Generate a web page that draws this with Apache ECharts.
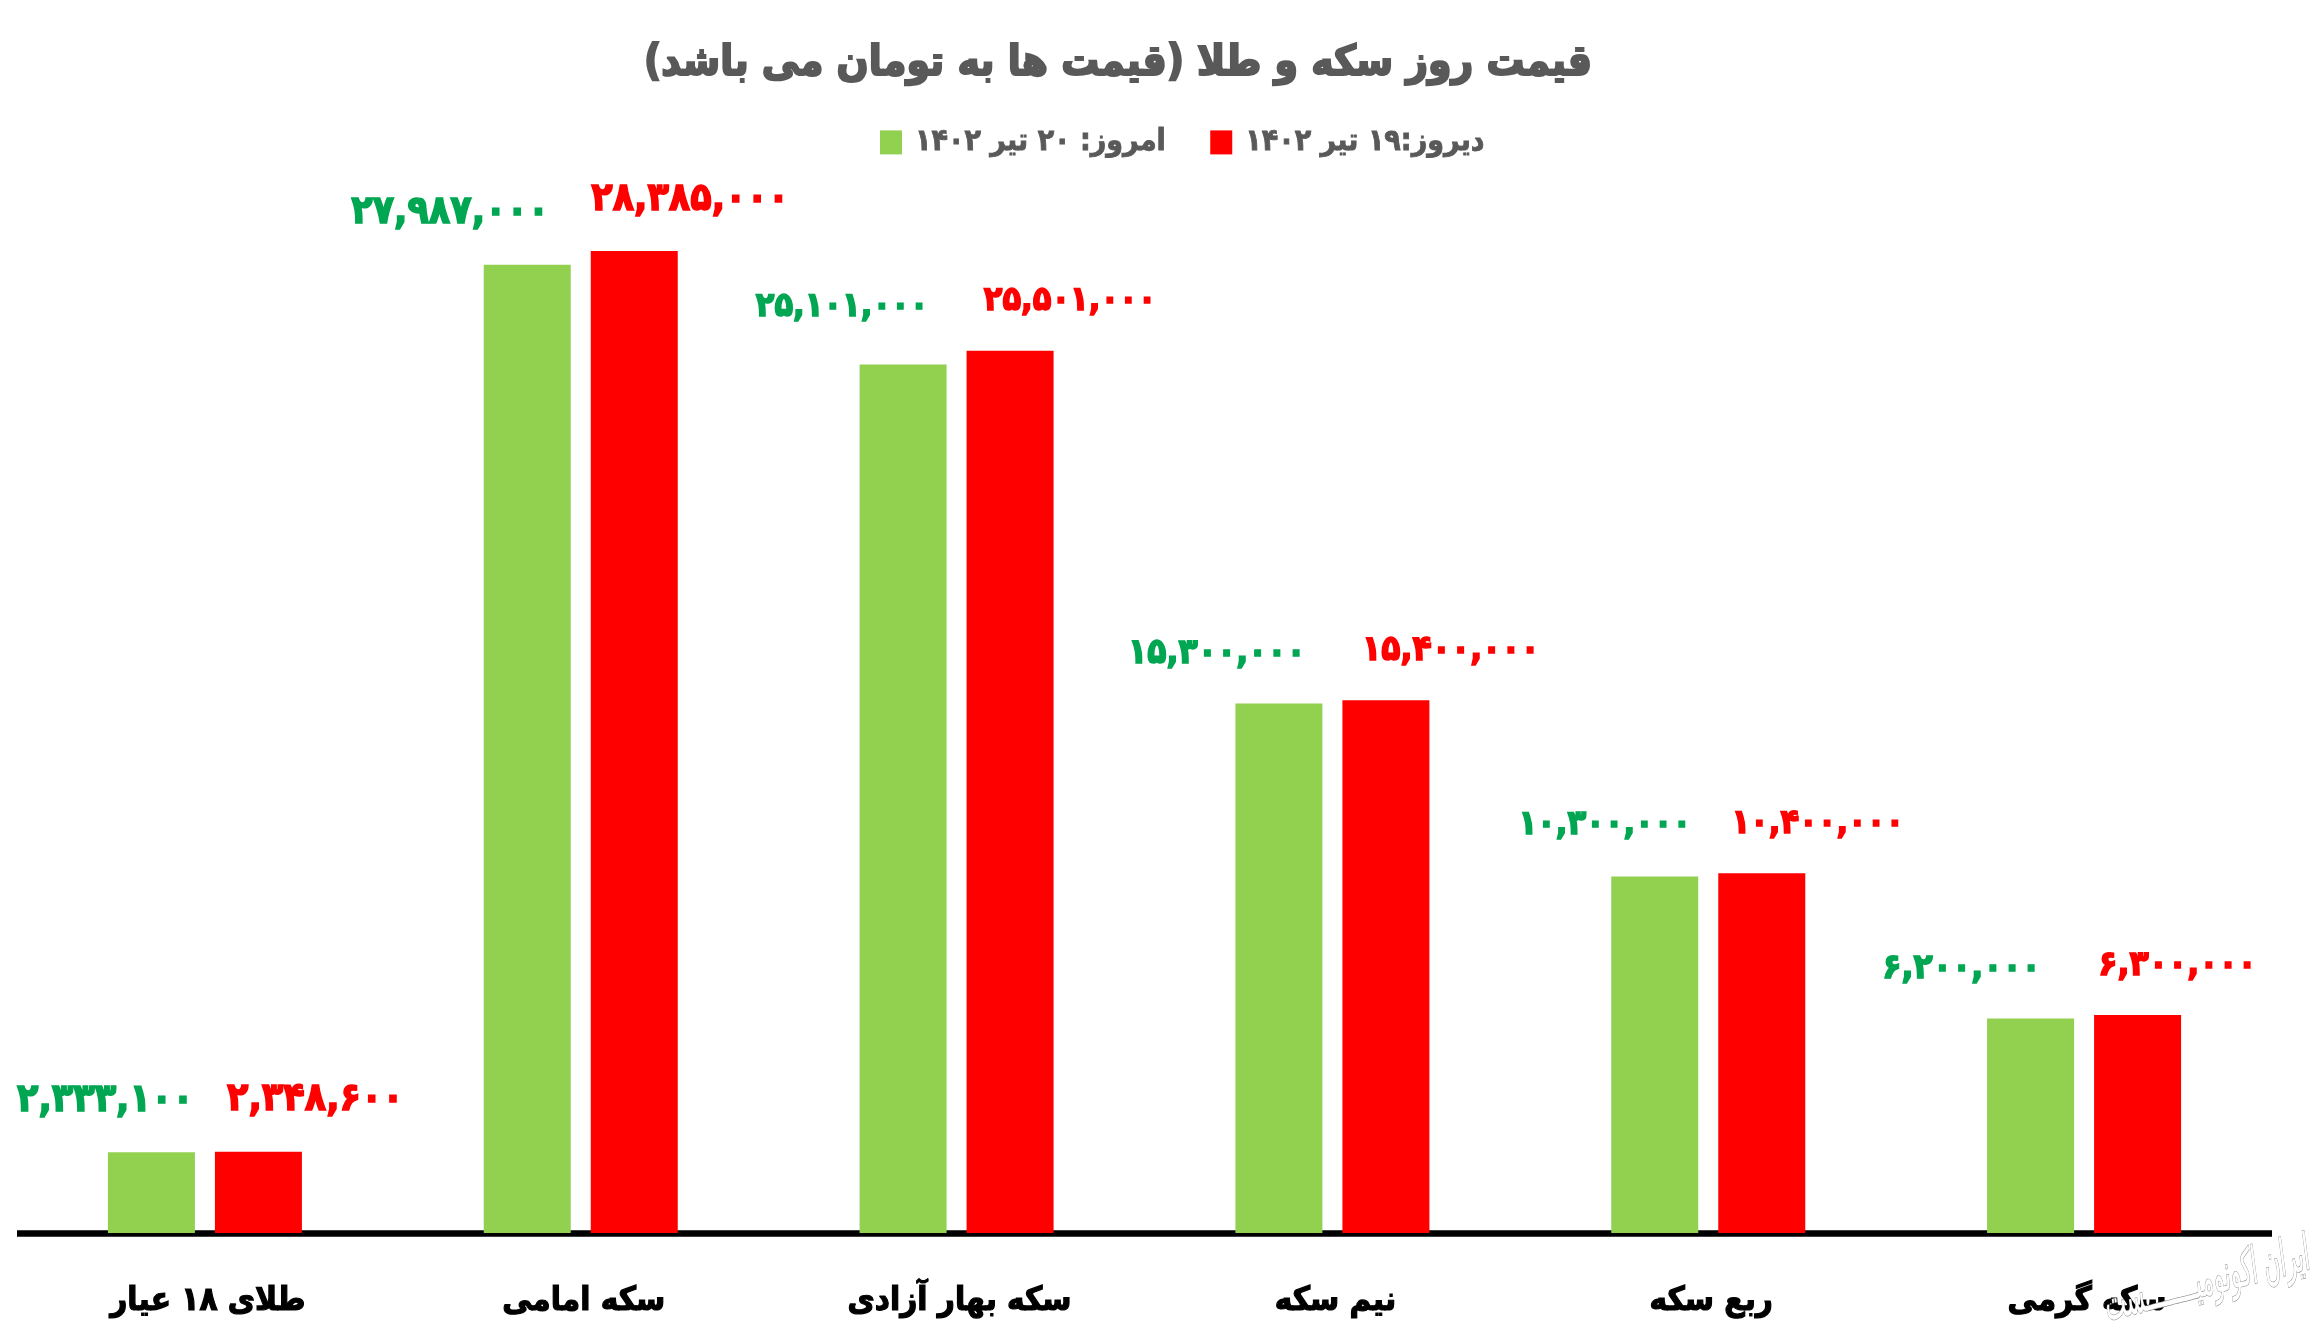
<!DOCTYPE html>
<html>
<head>
<meta charset="utf-8">
<title>chart</title>
<style>
    html, body { margin: 0; padding: 0; background: #fff; }
    #chart { width: 2311px; height: 1334px; }
</style>
<script src="https://cdn.jsdelivr.net/npm/echarts@6/dist/echarts.min.js"></script>
</head>
<body>
<div id="chart"></div>
<script>
const categories = ['طلای ۱۸ عیار', 'سکه امامی', 'سکه بهار آزادی', 'نیم سکه', 'ربع سکه', 'سکه گرمی'];
const todayName = 'امروز: ۲۰ تیر ۱۴۰۲';
const yesterdayName = 'دیروز:۱۹ تیر ۱۴۰۲';
const todayValues = [2333100, 27987000, 25101000, 15300000, 10300000, 6200000];
const yesterdayValues = [2348600, 28385000, 25501000, 15400000, 10400000, 6300000];

// labels were moved by hand in the original, so each one has its own shift
const todayShiftX = [-46, -77, -61, -62, -50, -69];
const todayShiftY = [0, 0, -8, 0, -2, 0];
const yesterdayShiftX = [57, 56, 60, 65, 56, 40];
const yesterdayShiftY = [0, 0, 0, 0, 0, 0];
const labelSizes = [39, 39, 34, 35, 34, 35];

const FONT = '"DejaVu Sans Condensed", "DejaVu Sans", sans-serif';

function toPersian(value) {
    return value.toLocaleString('en-US').replace(/\d/g, function (d) {
        return '۰۱۲۳۴۵۶۷۸۹'[+d];
    });
}

function buildData(values, shiftX, shiftY, color) {
    return values.map(function (value, i) {
        return {
            value: value,
            label: {
                show: true,
                position: 'top',
                distance: 32,
                offset: [shiftX[i], shiftY[i]],
                color: color,
                textBorderColor: color,
                textBorderWidth: 1.5,
                fontFamily: FONT,
                fontWeight: 'bold',
                fontSize: labelSizes[i],
                formatter: toPersian(value)
            }
        };
    });
}

const chart = echarts.init(document.getElementById('chart'));

chart.setOption({
    animation: false,
    backgroundColor: '#fff',
    title: {
        text: 'قیمت روز سکه و طلا (قیمت ها به تومان می باشد)',
        left: 1113,
        top: 38,
        textAlign: 'center',
        textStyle: {
            fontFamily: FONT,
            fontWeight: 'bold',
            fontSize: 42,
            color: '#595959',
            textBorderColor: '#595959',
            textBorderWidth: 2
        }
    },
    legend: {
        data: [todayName, yesterdayName],
        left: 875,
        top: 122,
        itemWidth: 22,
        itemHeight: 24,
        itemGap: 44,
        icon: 'rect',
        textStyle: {
            fontFamily: FONT,
            fontWeight: 'bold',
            fontSize: 30,
            color: '#595959',
            textBorderColor: '#595959',
            textBorderWidth: 0.8,
            padding: [0, 0, 0, 8]
        }
    },
    grid: { left: 17, right: 39, top: 195, bottom: 101 },
    xAxis: {
        type: 'category',
        data: categories,
        axisLine: { lineStyle: { color: '#000', width: 6.5, cap: 'butt' } },
        axisTick: { show: false },
        axisLabel: {
            margin: 52,
            padding: [0, 0, 0, 6],
            color: '#000',
            textBorderColor: '#000',
            textBorderWidth: 1.2,
            fontFamily: FONT,
            fontWeight: 'bold',
            fontSize: 33
        }
    },
    yAxis: {
        type: 'value',
        min: 0,
        max: 30000000,
        show: false,
        splitLine: { show: false }
    },
    series: [
        {
            name: todayName,
            type: 'bar',
            barWidth: 87,
            barGap: '23%',
            itemStyle: { color: '#92D050' },
            data: buildData(todayValues, todayShiftX, todayShiftY, '#00A651')
        },
        {
            name: yesterdayName,
            type: 'bar',
            barWidth: 87,
            barGap: '23%',
            itemStyle: { color: '#FF0000' },
            data: buildData(yesterdayValues, yesterdayShiftX, yesterdayShiftY, '#FF0000')
        }
    ],
    graphic: [
        // watermark, sits over the last axis label
        {
            type: 'text',
            z: 100,
            x: 2308,
            y: 1256,
            rotation: 0.25,
            scaleX: 0.72,
            scaleY: 1.5,
            style: {
                text: 'ایران اکونومیــــــــست',
                align: 'right',
                verticalAlign: 'middle',
                fontFamily: FONT,
                fontSize: 34,
                fontStyle: 'italic',
                fill: '#fff',
                stroke: '#8c8c8c',
                lineWidth: 0.8
            }
        }
    ]
});
</script>
</body>
</html>
